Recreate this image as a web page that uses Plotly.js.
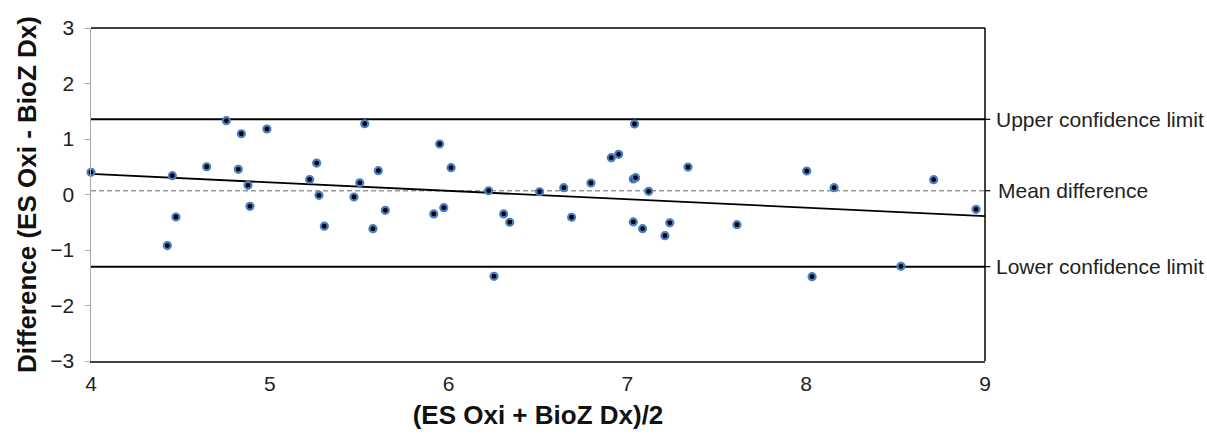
<!DOCTYPE html>
<html>
<head>
<meta charset="utf-8">
<script src="https://cdn.plot.ly/plotly-3.0.1.min.js"></script>
<style>html,body{margin:0;padding:0;background:#fff;}#chart{width:1207px;height:434px;}</style>
</head>
<body>
<div id="chart"></div>
<script>
// Bland-Altman data: mean of methods (x) and difference (y)
const meanValues = [4.0, 4.427, 4.455, 4.475, 4.647, 4.757, 4.824, 4.841, 4.878, 4.889,
  4.984, 5.223, 5.262, 5.275, 5.305, 5.471, 5.503, 5.531, 5.577, 5.607,
  5.646, 5.917, 5.950, 5.973, 6.014, 6.224, 6.254, 6.308, 6.342, 6.509,
  6.644, 6.688, 6.796, 6.910, 6.951, 7.033, 7.033, 7.046, 7.040, 7.085,
  7.119, 7.210, 7.237, 7.339, 7.613, 8.003, 8.033, 8.156, 8.530, 8.713, 8.950];
const diffValues = [0.40, -0.92, 0.34, -0.405, 0.50, 1.33, 0.454, 1.095, 0.165, -0.213,
  1.18, 0.27, 0.567, -0.015, -0.57, -0.045, 0.21, 1.275, -0.615, 0.43,
  -0.285, -0.35, 0.91, -0.237, 0.483, 0.068, -1.474, -0.35, -0.50, 0.05,
  0.123, -0.41, 0.207, 0.664, 0.724, -0.495, 0.279, 0.303, 1.27, -0.615,
  0.057, -0.742, -0.51, 0.495, -0.543, 0.423, -1.48, 0.123, -1.295, 0.267, -0.267];

const xRange = [4, 9];
const upperLimit = 1.355;
const meanDifference = 0.068;
const lowerLimit = -1.30;
const regressionX = [4, 9];
const regressionY = [0.37, -0.39];

const limitLabels = ["Upper confidence limit", "Mean difference", "Lower confidence limit"];
const limitValues = [upperLimit, meanDifference, lowerLimit];

const yTicks = [-3, -2, -1, 0, 1, 2, 3];
const xTicks = [4, 5, 6, 7, 8, 9];

const font = "Liberation Sans, Arial, sans-serif";

const traces = [
  {x: xRange, y: [upperLimit, upperLimit], mode: 'lines', line: {color: '#000', width: 2}, hoverinfo: 'skip'},
  {x: xRange, y: [lowerLimit, lowerLimit], mode: 'lines', line: {color: '#000', width: 2}, hoverinfo: 'skip'},
  {x: xRange, y: [meanDifference, meanDifference], mode: 'lines', line: {color: '#999', width: 1.5, dash: '5px,3px'}, hoverinfo: 'skip'},
  {x: regressionX, y: regressionY, mode: 'lines', line: {color: '#000', width: 1.8}, hoverinfo: 'skip'},
  {x: meanValues, y: diffValues, mode: 'markers', cliponaxis: false,
   marker: {size: 7, color: '#000', line: {color: '#4a7ec4', width: 2.2}}}
];

const annotations = limitLabels.map((t, i) => ({
  xref: 'paper', yref: 'y', x: 1, y: limitValues[i], xanchor: 'left', yanchor: 'middle',
  xshift: i === 1 ? 11 : 9, text: t, showarrow: false,
  font: {family: font, size: 21, color: '#222'}
}));

const shapes = [
  {type: 'line', xref: 'paper', yref: 'paper', x0: 0, x1: 1, y0: 1, y1: 1, line: {color: '#000', width: 1.5}},
  {type: 'line', xref: 'paper', yref: 'paper', x0: 1, x1: 1, y0: 0, y1: 1, line: {color: '#000', width: 1.5}}
].concat(limitValues.map(v => ({type: 'line', xref: 'paper', yref: 'y', x0: 1, x1: 1.006, y0: v, y1: v, line: {color: '#000', width: 1.2}})));

const layout = {
  width: 1207, height: 434,
  margin: {l: 91, r: 222, t: 28, b: 73},
  paper_bgcolor: '#fff', plot_bgcolor: '#fff',
  showlegend: false,
  xaxis: {
    range: xRange, tickvals: xTicks, ticktext: xTicks.map(String),
    showgrid: false, zeroline: false, showline: true, linecolor: '#444', linewidth: 1.5,
    ticks: '', ticklabelstandoff: 3,
    tickfont: {family: font, size: 21, color: '#222'},
    title: {text: '<b>(ES Oxi + BioZ Dx)/2</b>', font: {family: font, size: 26, color: '#111'}, standoff: 12}
  },
  yaxis: {
    range: [-3, 3], tickvals: yTicks,
    showgrid: false, zeroline: false, showline: true, linecolor: '#aaa', linewidth: 1.5,
    ticks: 'outside', ticklen: 5, tickcolor: '#aaa', tickwidth: 1,
    ticklabelstandoff: 6,
    tickfont: {family: font, size: 21, color: '#222'},
    title: {text: '<b>Difference (ES Oxi - BioZ Dx)</b>', font: {family: font, size: 26, color: '#111'}, standoff: 6}
  },
  shapes: shapes,
  annotations: annotations
};

Plotly.newPlot('chart', traces, layout, {displayModeBar: false, staticPlot: true});
</script>
</body>
</html>
